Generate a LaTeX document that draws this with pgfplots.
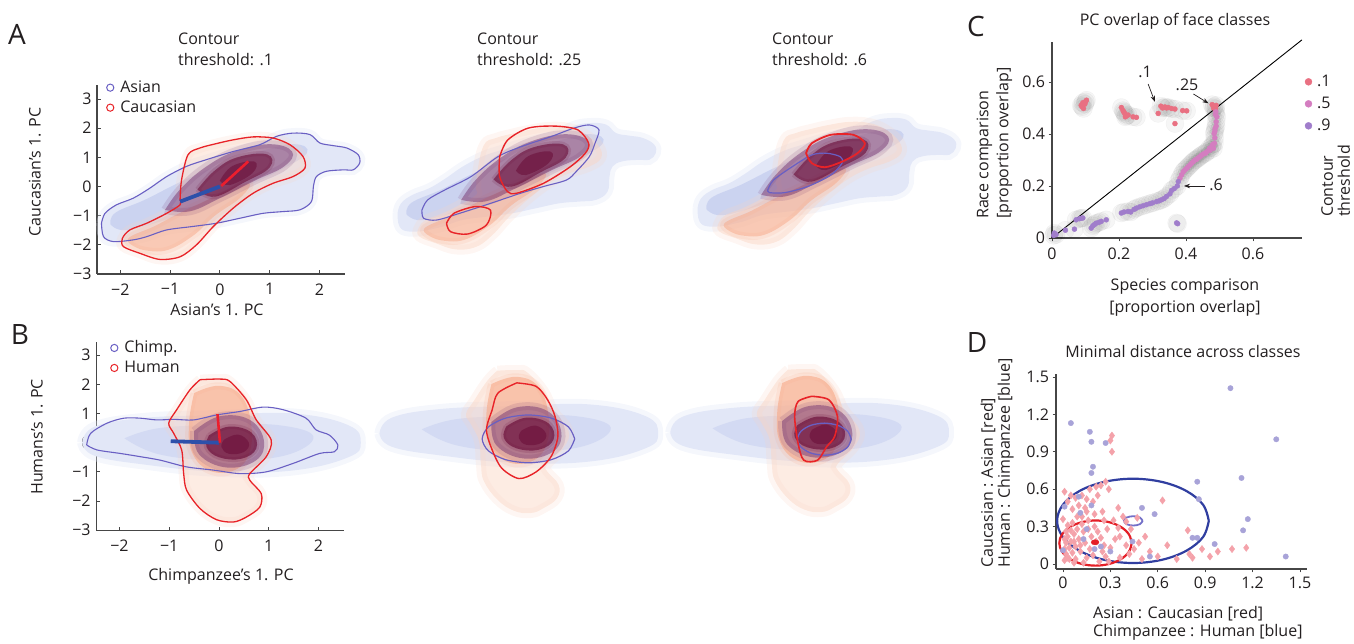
\documentclass[border=0pt]{standalone}
\usepackage{fontspec}
\setmainfont{Open Sans}
\usepackage{pgfplots}
\usepackage{pgfplotstable}
\pgfplotsset{compat=1.18}
\usetikzlibrary{arrows.meta}

\definecolor{txt}{RGB}{35,31,32}
\definecolor{axc}{RGB}{70,70,70}
\definecolor{cblu}{RGB}{105,95,195}
\definecolor{cred}{RGB}{232,35,40}
\definecolor{barblue}{RGB}{45,80,170}
\definecolor{barred}{RGB}{236,30,45}
\definecolor{bfaint}{RGB}{226,231,247}
\definecolor{bmid}{RGB}{185,195,236}
\definecolor{ofaint}{RGB}{250,212,194}
\definecolor{omid}{RGB}{247,168,135}
\definecolor{pmid}{RGB}{118,55,115}
\definecolor{pdark}{RGB}{105,12,55}
\definecolor{cone}{RGB}{233,112,130}
\definecolor{cfive}{RGB}{212,125,192}
\definecolor{cnine}{RGB}{160,125,203}
\definecolor{dpink}{RGB}{244,162,170}
\definecolor{dblue}{RGB}{168,163,216}
\definecolor{eblue}{RGB}{48,62,160}
\definecolor{ered}{RGB}{228,30,38}
\definecolor{esmall}{RGB}{115,112,200}

\newcommand{\fs}{\fontsize{16}{21}\selectfont}

% ---------------- Row A shapes (A1 data coordinates) ----------------
\pgfplotstableread{
x y
-2.38 -1.26
-2.31 -0.92
-2.08 -0.63
-1.74 -0.40
-1.41 -0.06
-1.07 0.34
-0.67 0.69
-0.27 0.92
0.27 1.20
0.80 1.43
1.14 1.72
1.47 1.83
1.81 1.78
2.01 1.49
2.28 1.40
2.55 1.32
2.78 1.09
2.81 0.80
2.68 0.57
2.48 0.57
2.14 0.52
1.94 0.34
1.88 0.0
1.84 -0.52
1.61 -0.80
1.27 -0.86
0.87 -0.92
0.40 -1.09
-0.07 -1.26
-0.54 -1.37
-1.07 -1.49
-1.47 -1.72
-1.74 -1.83
-2.14 -1.89
-2.34 -1.72
-2.38 -1.26
}\AblueA
\pgfplotstableread{
x y
-0.80 -0.46
-0.77 0.23
-0.64 1.09
-0.40 1.32
-0.07 1.47
0.27 1.60
0.67 1.70
1.07 1.66
1.41 1.43
1.67 1.03
1.71 0.63
1.47 0.34
1.07 0.11
0.67 -0.23
0.27 -0.74
-0.13 -1.37
-0.47 -2.00
-0.80 -2.41
-1.21 -2.50
-1.61 -2.29
-1.94 -2.06
-1.96 -1.78
-1.81 -1.49
-1.47 -1.26
-1.07 -0.92
-0.80 -0.63
-0.80 -0.46
}\AredA
\pgfplotstableread{
x y
-2.2 -1.3
-2.1 -0.9
-1.5 -0.45
-0.8 0.15
0.0 0.75
0.8 1.2
1.5 1.45
1.75 1.15
1.2 0.55
0.4 -0.1
-0.4 -0.7
-1.2 -1.2
-1.9 -1.5
-2.2 -1.3
}\AdensB
\pgfplotstableread{
x y
-1.6 -2.15
-1.85 -1.8
-1.3 -1.35
-0.8 -0.9
-0.3 -0.5
0.2 -0.1
0.6 0.1
0.4 -0.4
-0.1 -1.0
-0.55 -1.7
-1.1 -2.2
-1.6 -2.15
}\AdensO
\pgfplotstableread{
x y
-1.1 -0.8
-0.8 -0.1
-0.3 0.65
0.3 1.2
1.0 1.45
1.45 1.2
1.3 0.7
0.7 0.2
0.0 -0.4
-0.6 -0.85
-1.1 -0.8
}\AdensP
\pgfplotstableread{
x y
-0.45 -0.1
-0.1 0.55
0.35 1.0
0.95 1.1
1.0 0.65
0.5 0.15
-0.1 -0.35
-0.45 -0.1
}\AdensD
\pgfplotstableread{
x y
0.0 0.2
0.25 0.7
0.7 0.85
0.65 0.45
0.2 0.05
0.0 0.2
}\AdensC
% A2 contours
\pgfplotstableread{
x y
-1.79 -0.81
-1.69 -0.46
-1.39 -0.12
-0.93 0.34
-0.46 1.02
-0.06 1.36
0.47 1.71
0.87 2.00
1.14 2.11
1.31 1.94
1.24 1.48
1.14 1.02
0.91 0.51
0.74 0.22
0.34 0.00
-0.06 -0.23
-0.59 -0.58
-1.13 -0.92
-1.53 -1.15
-1.76 -1.09
-1.79 -0.81
}\AblueB
\pgfplotstableread{
x y
-0.43 1.02
-0.29 1.59
0.07 2.00
0.54 2.07
0.94 1.94
1.13 1.48
1.07 1.14
0.81 0.68
0.34 0.11
-0.13 -0.23
-0.29 -0.18
-0.43 0.34
-0.43 1.02
}\AredB
\pgfplotstableread{
x y
-1.36 -1.26
-1.23 -0.92
-0.86 -0.69
-0.59 -0.81
-0.66 -1.32
-0.99 -1.63
-1.29 -1.55
-1.36 -1.26
}\AredBb
% A3 contours
\pgfplotstableread{
x y
-0.84 -0.12
-0.74 0.22
-0.41 0.68
-0.07 1.08
0.19 1.14
0.43 1.02
0.46 0.80
0.26 0.39
-0.14 0.00
-0.54 -0.21
-0.81 -0.21
-0.84 -0.12
}\AblueC
\pgfplotstableread{
x y
-0.17 1.14
-0.07 1.48
0.26 1.77
0.66 1.77
0.86 1.48
0.73 1.14
0.46 0.85
0.16 0.66
-0.07 0.80
-0.17 1.14
}\AredC

% ---------------- Row B shapes (B1 data coordinates) ----------------
\pgfplotstableread{
x y
-2.66 -0.08
-2.58 0.32
-2.25 0.67
-1.91 0.84
-1.58 0.84
-1.25 0.78
-0.91 0.80
-0.51 0.78
-0.05 0.95
0.42 1.07
0.89 1.22
1.29 1.13
1.75 0.84
1.95 0.44
2.22 0.26
2.39 -0.08
2.32 -0.31
2.02 -0.37
1.49 -0.71
0.95 -1.00
0.42 -1.06
-0.11 -0.94
-0.65 -0.83
-1.18 -0.60
-1.58 -0.48
-1.98 -0.37
-2.45 -0.25
-2.66 -0.08
}\BblueA
\pgfplotstableread{
x y
-0.38 2.16
0.02 2.18
0.22 2.10
0.55 1.47
0.75 0.78
1.05 0.09
0.95 -0.48
0.62 -1.06
0.62 -1.29
0.85 -1.75
0.82 -2.21
0.55 -2.55
0.29 -2.72
-0.05 -2.64
-0.38 -2.26
-0.65 -1.63
-0.71 -1.06
-0.75 -0.25
-0.91 0.32
-1.01 0.67
-0.85 1.13
-0.58 1.82
-0.38 2.16
}\BredA
\pgfplotstableread{
x y
-2.75 0.0
-2.5 0.55
-1.5 0.85
0.0 0.95
1.5 1.0
2.6 0.6
2.85 0.0
2.6 -0.5
1.5 -0.95
0.0 -1.0
-1.5 -0.75
-2.5 -0.45
-2.75 0.0
}\BdensBf
\pgfplotstableread{
x y
-1.9 0.15
-1.2 0.5
0.0 0.6
1.2 0.6
1.9 0.2
1.3 -0.45
0.0 -0.6
-1.2 -0.4
-1.9 0.15
}\BdensB
\pgfplotstableread{
x y
-0.5 1.7
0.0 1.95
0.45 1.6
0.65 0.6
0.6 -0.4
0.3 -0.95
-0.2 -0.95
-0.55 -0.3
-0.6 0.7
-0.5 1.7
}\BdensO
\pgfplotstableread{
x y
-0.5 0.4
0.0 0.9
0.6 0.8
0.9 0.1
0.75 -0.6
0.15 -0.85
-0.4 -0.4
-0.5 0.4
}\BdensP
\pgfplotstableread{
x y
-0.2 0.25
0.2 0.55
0.65 0.35
0.75 -0.2
0.45 -0.55
0.0 -0.5
-0.25 -0.15
-0.2 0.25
}\BdensD
\pgfplotstableread{
x y
0.1 0.1
0.38 0.28
0.6 0.0
0.5 -0.32
0.2 -0.38
0.05 -0.15
0.1 0.1
}\BdensC
\pgfplotstableread{
x y
0.885 0.13
0.776 0.54
0.48 0.84
0.075 0.95
-0.33 0.84
-0.626 0.54
-0.735 0.13
-0.626 -0.28
-0.33 -0.58
0.075 -0.69
0.48 -0.58
0.776 -0.28
0.885 0.13
}\BblueB
\pgfplotstableread{
x y
-0.13 2.05
0.21 1.93
0.41 1.47
0.54 0.90
0.59 0.21
0.47 -0.48
0.21 -1.00
-0.09 -1.23
-0.39 -0.88
-0.56 -0.25
-0.66 0.44
-0.56 1.13
-0.46 1.70
-0.13 2.05
}\BredB
\pgfplotstableread{
x y
0.62 0.12
0.557 0.395
0.385 0.596
0.15 0.67
-0.085 0.596
-0.257 0.395
-0.32 0.12
-0.257 -0.155
-0.085 -0.356
0.15 -0.43
0.385 -0.356
0.557 -0.155
0.62 0.12
}\BblueC
\pgfplotstableread{
x y
-0.07 1.59
0.23 1.47
0.38 0.90
0.33 0.21
0.19 -0.14
0.03 -0.60
-0.21 -0.60
-0.31 -0.02
-0.37 0.90
-0.31 1.41
-0.07 1.59
}\BredC

% ---------------- Panel C data ----------------
\pgfplotstableread{
x y
0.087 0.510
0.094 0.498
0.100 0.524
0.103 0.530
0.090 0.505
0.098 0.515
0.092 0.520
0.207 0.502
0.212 0.490
0.217 0.479
0.219 0.466
0.227 0.473
0.242 0.466
0.252 0.464
0.214 0.485
0.222 0.470
0.317 0.479
0.325 0.507
0.337 0.504
0.347 0.502
0.357 0.498
0.367 0.496
0.390 0.490
0.402 0.489
0.330 0.500
0.342 0.500
0.367 0.440
0.478 0.513
0.484 0.505
0.490 0.510
0.482 0.500
0.488 0.497
}\Cone
\pgfplotstableread{
x y
0.489 0.485
0.492 0.466
0.490 0.447
0.487 0.421
0.484 0.402
0.486 0.385
0.485 0.364
0.482 0.345
0.477 0.352
0.472 0.338
0.462 0.332
0.452 0.323
0.442 0.313
0.432 0.303
0.422 0.294
0.412 0.281
0.402 0.268
0.392 0.255
0.387 0.243
0.382 0.230
0.480 0.360
0.470 0.345
0.488 0.475
0.490 0.430
0.486 0.410
0.458 0.326
0.446 0.318
0.436 0.308
0.427 0.300
0.417 0.288
0.407 0.275
0.397 0.262
}\Cfive
\pgfplotstableread{
x y
0.377 0.217
0.374 0.200
0.357 0.183
0.352 0.170
0.342 0.160
0.327 0.147
0.312 0.140
0.292 0.132
0.272 0.124
0.252 0.115
0.227 0.102
0.207 0.096
0.235 0.100
0.215 0.100
0.300 0.135
0.320 0.143
0.335 0.152
0.365 0.190
0.282 0.128
0.262 0.120
0.245 0.110
0.375 0.055
0.372 0.058
0.162 0.070
0.147 0.064
0.132 0.057
0.122 0.047
0.117 0.038
0.140 0.060
0.127 0.052
0.092 0.077
0.082 0.074
0.072 0.070
0.087 0.076
0.067 0.034
0.040 0.030
0.012 0.013
0.007 0.019
0.005 0.010
}\Cnine

% ---------------- Panel D data ----------------
\pgfplotstableread{
x y
0.31 1.03
0.30 0.99
0.31 0.90
0.27 0.66
0.21 0.62
0.24 0.63
0.01 0.58
0.05 0.55
0.08 0.53
0.12 0.55
0.15 0.52
0.17 0.60
0.03 0.50
0.10 0.47
0.14 0.45
0.19 0.50
0.22 0.55
0.29 0.60
0.25 0.42
0.35 0.45
0.38 0.38
0.63 0.51
0.47 0.37
0.40 0.34
0.52 0.22
0.79 0.27
0.66 0.15
0.88 0.12
0.93 0.06
0.98 0.10
1.07 0.12
1.16 0.13
0.72 0.04
0.82 0.05
0.80 0.08
0.42 0.08
0.36 0.05
0.45 0.12
0.50 0.04
0.55 0.10
0.60 0.06
0.48 0.17
0.33 0.20
0.30 0.13
0.27 0.06
0.26 0.15
0.24 0.21
0.22 0.26
0.20 0.30
0.18 0.22
0.17 0.12
0.15 0.05
0.14 0.17
0.13 0.26
0.12 0.32
0.11 0.10
0.10 0.20
0.09 0.28
0.08 0.04
0.08 0.14
0.07 0.24
0.06 0.33
0.06 0.09
0.05 0.18
0.05 0.27
0.04 0.04
0.04 0.13
0.03 0.22
0.03 0.31
0.02 0.08
0.02 0.17
0.02 0.26
0.01 0.03
0.01 0.12
0.01 0.20
0.00 0.36
0.09 0.38
0.16 0.35
0.20 0.40
0.28 0.28
0.32 0.35
0.36 0.22
0.40 0.15
0.19 0.07
0.23 0.02
0.29 0.02
0.13 0.01
0.07 0.01
0.26 0.35
0.35 0.29
0.43 0.28
0.15 0.42
0.06 0.44
0.12 0.38
0.11 0.15
0.16 0.28
0.21 0.18
0.25 0.10
0.03 0.05
0.07 0.18
}\Dpink
\pgfplotstableread{
x y
0.05 1.13
0.17 1.06
0.18 0.98
0.27 0.97
0.19 0.78
0.18 0.73
1.06 1.41
1.35 1.00
1.13 0.69
0.85 0.66
1.17 0.36
1.14 0.27
0.58 0.40
0.50 0.45
0.18 0.47
0.11 0.41
0.82 0.21
0.85 0.21
0.96 0.16
1.41 0.06
0.55 0.06
0.44 0.18
0.86 0.52
0.15 0.28
0.24 0.14
0.00 0.11
0.10 0.54
0.01 0.46
0.13 0.20
0.20 0.12
0.30 0.10
}\Dblue

\pgfplotsset{
  dens/.style={draw=none, fill=#1, smooth, tension=0.7, forget plot, mark=none},
  halo/.style={draw=#1, line width=10pt, fill=none, smooth, tension=0.7, forget plot, mark=none, draw opacity=0.35},
  cont/.style={draw=#1, smooth, tension=0.5, forget plot, fill=none, mark=none},
  boxax/.style={anchor=south west, clip=false, axis x line=bottom, axis y line=left,
    axis line style={-, axc, line width=1.1pt}, tick style={axc, line width=0.9pt},
    major tick length=3.5pt, ticklabel style={font=\fs, text=txt},
    /pgf/number format/assume math mode=true},
  bare/.style={anchor=south west, clip=false, hide axis},
  Aax/.style={x=49.75pt, y=29.17pt, xmin=-2.47, xmax=2.51, ymin=-3, ymax=3.49},
  Bax/.style={x=49.75pt, y=29.17pt, xmin=-2.47, xmax=2.51, ymin=-3, ymax=3.46},
  Cax/.style={x=57.11pt, y=29.17pt, xmin=-2.47, xmax=2.51, ymin=-3, ymax=3.46},
}

\newcommand{\densA}[2]{%
  \addplot[halo=bfaint, xshift=#1, yshift=#2] table {\AblueA};
  \addplot[dens=bfaint, xshift=#1, yshift=#2] table {\AblueA};
  \addplot[dens=bmid, fill opacity=0.55, xshift=#1, yshift=#2] table {\AdensB};
  \addplot[halo=ofaint, draw opacity=0.2, xshift=#1, yshift=#2] table {\AredA};
  \addplot[dens=ofaint, fill opacity=0.45, xshift=#1, yshift=#2] table {\AredA};
  \addplot[halo=omid, line width=7pt, draw opacity=0.15, xshift=#1, yshift=#2] table {\AdensO};
  \addplot[dens=omid, fill opacity=0.5, xshift=#1, yshift=#2] table {\AdensO};
  \addplot[halo=pmid, line width=8pt, draw opacity=0.15, xshift=#1, yshift=#2] table {\AdensP};
  \addplot[dens=pmid, fill opacity=0.5, xshift=#1, yshift=#2] table {\AdensP};
  \addplot[halo=pdark, line width=5pt, draw opacity=0.15, xshift=#1, yshift=#2] table {\AdensD};
  \addplot[dens=pdark, fill opacity=0.6, xshift=#1, yshift=#2] table {\AdensD};
  \addplot[dens=pdark, fill opacity=0.55, xshift=#1, yshift=#2] table {\AdensC};
}
\newcommand{\densB}[2]{%
  \addplot[halo=bfaint, xshift=#1, yshift=#2] table {\BdensBf};
  \addplot[dens=bfaint, xshift=#1, yshift=#2] table {\BdensBf};
  \addplot[dens=bmid, fill opacity=0.35, xshift=#1, yshift=#2] table {\BdensB};
  \addplot[halo=ofaint, draw opacity=0.2, xshift=#1, yshift=#2] table {\BredA};
  \addplot[dens=ofaint, fill opacity=0.45, xshift=#1, yshift=#2] table {\BredA};
  \addplot[halo=omid, line width=7pt, draw opacity=0.15, xshift=#1, yshift=#2] table {\BdensO};
  \addplot[dens=omid, fill opacity=0.6, xshift=#1, yshift=#2] table {\BdensO};
  \addplot[halo=pmid, line width=8pt, draw opacity=0.15, xshift=#1, yshift=#2] table {\BdensP};
  \addplot[dens=pmid, fill opacity=0.5, xshift=#1, yshift=#2] table {\BdensP};
  \addplot[halo=pdark, line width=5pt, draw opacity=0.15, xshift=#1, yshift=#2] table {\BdensD};
  \addplot[dens=pdark, fill opacity=0.65, xshift=#1, yshift=#2] table {\BdensD};
  \addplot[dens=pdark, fill opacity=0.55, xshift=#1, yshift=#2] table {\BdensC};
}

\begin{document}
\begin{tikzpicture}[x=1pt,y=1pt]
\path[use as bounding box] (0,0) rectangle (1354,644);

% ================= A1 =================
\begin{axis}[boxax, Aax, at={(97pt,370pt)},
  xtick={-2,-1,0,1,2}, xticklabels={−2,−1,0,1,2},
  ytick={-3,-2,-1,0,1,2,3}, yticklabels={−3,−2,−1,0,1,2,3},
  tick align=inside, xticklabel shift=6pt, yticklabel shift=2pt,
  legend style={at={(axis cs:-2.29,3.72)}, anchor=north west, draw=none, fill=none,
    font=\fs, inner sep=0pt, row sep=1pt, nodes={inner sep=2pt, text height=12pt, text depth=3pt, text=txt},
    cells={anchor=west}, /tikz/every odd column/.append style={column sep=4pt}},
  legend image code/.code={\draw[#1, line width=1pt, fill=none] (4pt,0pt) circle (3.6pt);}]
\densA{0pt}{0pt}
\addplot[cont=cblu, line width=1.1pt] table {\AblueA};
\addplot[cont=cred, line width=1.3pt] table {\AredA};
\addplot[barblue, line width=3.8pt, forget plot] coordinates {(-0.80,-0.52) (0,0)};
\addplot[barred, line width=2.6pt, forget plot] coordinates {(0.03,0.02) (0.57,0.86)};
\addlegendimage{cblu}
\addlegendentry{Asian}
\addlegendimage{cred}
\addlegendentry{Caucasian}
\end{axis}

% ================= A2 =================
\begin{axis}[bare, Aax, at={(393.1pt,370pt)}]
\densA{0pt}{10pt}
\end{axis}
\begin{axis}[bare, Cax, ymax=3.49, at={(383.1pt,370pt)}]
\addplot[cont=cblu, line width=1.1pt] table {\AblueB};
\addplot[cont=cred, line width=1.4pt] table {\AredB};
\addplot[cont=cred, line width=1.4pt] table {\AredBb};
\end{axis}

% ================= A3 =================
\begin{axis}[bare, Aax, at={(693.1pt,370pt)}]
\densA{0pt}{15pt}
\end{axis}
\begin{axis}[bare, Cax, ymax=3.49, at={(674.7pt,370pt)}]
\addplot[cont=cblu, line width=1.2pt] table {\AblueC};
\addplot[cont=cred, line width=1.8pt] table {\AredC};
\end{axis}

% ================= B1 =================
\begin{axis}[boxax, Bax, at={(96.1pt,113.8pt)},
  xtick={-2,-1,0,1,2}, xticklabels={−2,−1,0,1,2},
  ytick={-3,-2,-1,0,1,2,3}, yticklabels={−3,−2,−1,0,1,2,3},
  tick align=inside, xticklabel shift=6pt, yticklabel shift=2pt,
  legend style={at={(axis cs:-2.19,3.58)}, anchor=north west, draw=none, fill=none,
    font=\fs, inner sep=0pt, row sep=1pt, nodes={inner sep=2pt, text height=12pt, text depth=3pt, text=txt},
    cells={anchor=west}, /tikz/every odd column/.append style={column sep=4pt}},
  legend image code/.code={\draw[#1, line width=1pt, fill=none] (4pt,0pt) circle (3.6pt);}]
\densB{0pt}{0pt}
\addplot[cont=cblu, line width=1.1pt] table {\BblueA};
\addplot[cont=cred, line width=1.3pt] table {\BredA};
\addplot[barblue, line width=3.8pt, forget plot] coordinates {(-0.97,0.05) (0,0)};
\addplot[barred, line width=2.6pt, forget plot] coordinates {(0.02,0) (-0.03,0.98)};
\addlegendimage{cblu}
\addlegendentry{Chimp.}
\addlegendimage{cred}
\addlegendentry{Human}
\end{axis}

% ================= B2 =================
\begin{axis}[bare, Bax, at={(393.4pt,113.8pt)}]
\densB{0pt}{9pt}
\end{axis}
\begin{axis}[bare, Cax, at={(383.1pt,113.8pt)}]
\addplot[cont=cblu, line width=1.2pt] table {\BblueB};
\addplot[cont=cred, line width=1.4pt] table {\BredB};
\end{axis}

% ================= B3 =================
\begin{axis}[bare, Bax, at={(684.2pt,113.8pt)}]
\densB{0pt}{10pt}
\end{axis}
\begin{axis}[bare, Cax, at={(674.7pt,113.8pt)}]
\addplot[cont=cblu, line width=1.3pt] table {\BblueC};
\addplot[cont=cred, line width=1.6pt] table {\BredC};
\end{axis}

% ================= C =================
\begin{axis}[boxax, at={(1052pt,406pt)}, x=335pt, y=260pt,
  xmin=0, xmax=0.746, ymin=0, ymax=0.754,
  xtick={0,0.2,0.4,0.6}, xticklabels={0,0.2,0.4,0.6},
  ytick={0,0.2,0.4,0.6}, yticklabels={0,0.2,0.4,0.6},
  tick align=outside, xticklabel shift=3pt, yticklabel shift=0pt,
  legend style={at={(axis cs:0.754,0.638)}, anchor=north west, draw=none, fill=none,
    font=\fs, inner sep=0pt, row sep=3pt, nodes={inner sep=2pt, text height=12pt, text depth=3pt, text=txt},
    cells={anchor=west}, /tikz/every odd column/.append style={column sep=3pt}},
  legend image code/.code={\fill[#1] (3.5pt,0pt) circle (3.5pt);}]
\addplot[only marks, mark=*, mark size=9pt, black, opacity=0.035, forget plot] table {\Cone};
\addplot[only marks, mark=*, mark size=9pt, black, opacity=0.035, forget plot] table {\Cfive};
\addplot[only marks, mark=*, mark size=9pt, black, opacity=0.035, forget plot] table {\Cnine};
\addplot[only marks, mark=*, mark size=5pt, black, opacity=0.03, forget plot] table {\Cfive};
\addplot[black, line width=0.9pt, forget plot] coordinates {(0,0) (0.746,0.762)};
\addplot[only marks, mark=*, mark size=2.5pt, cone, forget plot] table {\Cone};
\addplot[only marks, mark=*, mark size=2.5pt, cfive, forget plot] table {\Cfive};
\addplot[only marks, mark=*, mark size=2.5pt, cnine, forget plot] table {\Cnine};
\addlegendimage{cone}
\addlegendentry{.1}
\addlegendimage{cfive}
\addlegendentry{.5}
\addlegendimage{cnine}
\addlegendentry{.9}
\draw[-{Stealth[length=6pt,width=4.5pt]}, line width=0.7pt, txt] (axis cs:0.287,0.592) -- (axis cs:0.307,0.524);
\draw[-{Stealth[length=6pt,width=4.5pt]}, line width=0.7pt, txt] (axis cs:0.422,0.554) -- (axis cs:0.467,0.518);
\draw[-{Stealth[length=6pt,width=4.5pt]}, line width=0.7pt, txt] (axis cs:0.457,0.200) -- (axis cs:0.394,0.200);
\node[font=\fs, text=txt, inner sep=0pt] at (axis cs:0.278,0.638) {.1};
\node[font=\fs, text=txt, inner sep=0pt] at (axis cs:0.403,0.588) {.25};
\node[font=\fs, text=txt, inner sep=0pt] at (axis cs:0.490,0.204) {.6};
\end{axis}

% ================= D =================
\begin{axis}[boxax, at={(1056pt,75pt)}, x=158pt, y=124.7pt,
  xmin=-0.044, xmax=1.544, ymin=-0.04, ymax=1.52,
  xtick={0,0.3,0.6,0.9,1.2,1.5}, xticklabels={0,0.3,0.6,0.9,1.2,1.5},
  ytick={0,0.3,0.6,0.9,1.2,1.5}, yticklabels={0,0.3,0.6,0.9,1.2,1.5},
  tick align=outside, xticklabel shift=1pt, yticklabel shift=0pt]
\addplot[only marks, mark=diamond*, mark size=3.6pt, dpink, forget plot] table {\Dpink};
\addplot[only marks, mark=*, mark size=2.7pt, dblue, forget plot] table {\Dblue};
\addplot[eblue, line width=2.2pt, smooth, tension=0.6, forget plot] coordinates {
(0.923,0.346) (0.887,0.475) (0.782,0.585) (0.627,0.658) (0.443,0.684) (0.259,0.658)
(0.104,0.585) (-0.0005,0.475) (-0.037,0.346) (-0.0005,0.217) (0.104,0.107) (0.259,0.034)
(0.443,0.008) (0.627,0.034) (0.782,0.107) (0.887,0.217) (0.923,0.346)};
\addplot[ered, line width=2.2pt, smooth, tension=0.6, forget plot] coordinates {
(0.435,0.168) (0.418,0.237) (0.368,0.296) (0.294,0.335) (0.206,0.349) (0.118,0.335)
(0.044,0.296) (-0.006,0.237) (-0.023,0.168) (-0.006,0.099) (0.044,0.040) (0.118,0.001)
(0.206,-0.013) (0.294,0.001) (0.368,0.040) (0.418,0.099) (0.435,0.168)};
\addplot[esmall, line width=1.8pt, smooth, tension=0.6, forget plot] coordinates {
(0.504,0.346) (0.487,0.3725) (0.445,0.3835) (0.403,0.3725) (0.386,0.346) (0.403,0.3195)
(0.445,0.3085) (0.487,0.3195) (0.504,0.346)};
\addplot[only marks, mark=*, mark size=2.6pt, mark options={xscale=1.5}, ered, forget plot] coordinates {(0.203,0.174)};
\end{axis}

% ================= texts =================
\node[font=\fontsize{28}{28}\selectfont, text=txt, anchor=base, inner sep=0pt] at (17,599) {A};
\node[font=\fontsize{28}{28}\selectfont, text=txt, anchor=base, inner sep=0pt] at (20,299) {B};
\node[font=\fontsize{28}{28}\selectfont, text=txt, anchor=base, inner sep=0pt] at (976,607) {C};
\node[font=\fontsize{28}{28}\selectfont, text=txt, anchor=base, inner sep=0pt] at (977,291) {D};

\node[font=\fs, text=txt, align=left, anchor=north west, inner sep=0pt] at (178,611) {Contour\\threshold: .1};
\node[font=\fs, text=txt, align=left, anchor=north west, inner sep=0pt] at (477,611) {Contour\\threshold: .25};
\node[font=\fs, text=txt, align=left, anchor=north west, inner sep=0pt] at (772,611) {Contour\\threshold: .6};

\node[font=\fs, text=txt, anchor=base, inner sep=0pt] at (217,328) {Asian’s 1. PC};
\node[font=\fs, text=txt, anchor=base, inner sep=0pt, rotate=90] at (40.7,472) {Caucasian’s 1. PC};
\node[font=\fs, text=txt, anchor=base, inner sep=0pt] at (221,63) {Chimpanzee’s 1. PC};
\node[font=\fs, text=txt, anchor=base, inner sep=0pt, rotate=90] at (42.7,207) {Humans’s 1. PC};

\node[font=\fs, text=txt, anchor=base, inner sep=0pt] at (1175,618) {PC overlap of face classes};
\node[font=\fontsize{16}{22}\selectfont, text=txt, align=center, anchor=north, inner sep=0pt] at (1185,365) {Species comparison\\{[proportion overlap]}};
\node[font=\fontsize{16}{20}\selectfont, text=txt, align=left, anchor=north west, inner sep=0pt, rotate=90] at (976.5,425) {Race comparison\\{[proportion overlap]}};
\node[font=\fontsize{16}{17}\selectfont, text=txt, align=left, anchor=north west, inner sep=0pt, rotate=90] at (1321,427) {Contour\\threshold};

\node[font=\fs, text=txt, anchor=base, inner sep=0pt] at (1183,286) {Minimal distance across classes};
\node[font=\fontsize{16}{17}\selectfont, text=txt, align=left, anchor=north west, inner sep=0pt, rotate=90] at (980.5,76) {Caucasian : Asian [red]\\Human : Chimpanzee [blue]};
\node[font=\fontsize{16}{18}\selectfont, text=txt, align=left, anchor=north west, inner sep=0pt] at (1093,38) {Asian : Caucasian [red]\\Chimpanzee : Human [blue]};
\end{tikzpicture}
\end{document}
